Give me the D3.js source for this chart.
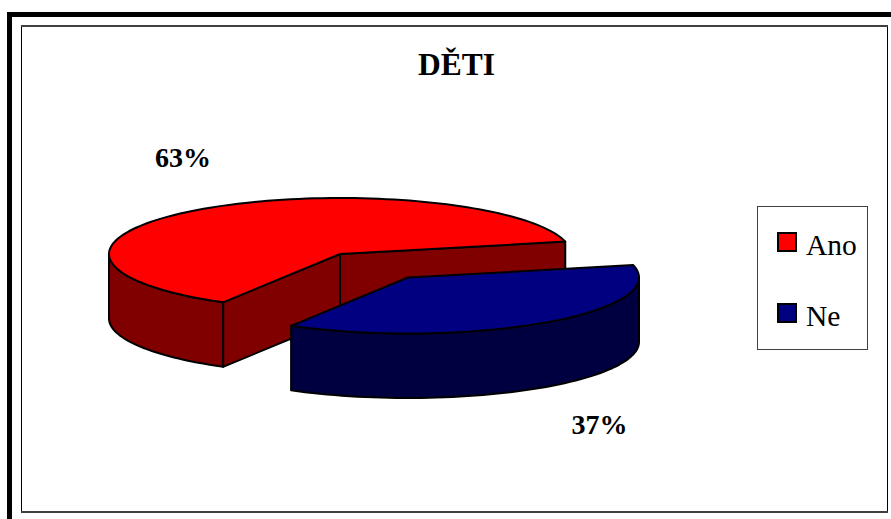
<!DOCTYPE html>
<html><head><meta charset="utf-8">
<script src="https://cdn.jsdelivr.net/npm/d3@7"></script>
<style>html,body{margin:0;padding:0;background:#fff}svg{display:block}text{font-family:"Liberation Serif",serif;fill:#000}</style>
</head><body><script>
const title = "DĚTI";
const categories = ["Ano", "Ne"];
const values = [63, 37];
const labels = ["63%", "37%"];
const topColors = ["#ff0000", "#000080"];
const sideColors = ["#800000", "#000040"];

const W = 891, H = 519;
const svg = d3.select("body").append("svg").attr("width", W).attr("height", H);
const rad = d => d * Math.PI / 180;

// page frame
svg.append("rect").attr("x",7).attr("y",12).attr("width",5).attr("height",H-12).attr("fill","#000");
svg.append("rect").attr("x",7).attr("y",12).attr("width",W-7).attr("height",5).attr("fill","#000");
// chart frame
svg.append("path").attr("d","M21.5,26V512H887.5V26Z").attr("fill","#fff").attr("stroke","#000").attr("stroke-width",1);
svg.append("rect").attr("x",21).attr("y",25).attr("width",867).attr("height",2).attr("fill","#404040");
svg.append("rect").attr("x",21).attr("y",511).attr("width",867).attr("height",2).attr("fill","#404040");

svg.append("text").attr("x",456.5).attr("y",75).attr("text-anchor","middle")
  .attr("font-size",31.5).attr("font-weight","bold").text(title);

// pie projected to an ellipse, with depth
const rx = 231, ry = 56, depth = 64.5;
const cx = 340, cy = 254;
const explode = [[0,0],[68,23.5]];
const pie = d3.pie().sort(null).startAngle(rad(210.4)).endAngle(rad(570.4));
const arcs = pie(values);
const pt = (i, a, dz=0) => [cx + explode[i][0] + rx*Math.sin(a), cy + explode[i][1] - ry*Math.cos(a) + dz];
const centre = (i, dz=0) => [cx + explode[i][0], cy + explode[i][1] + dz];
const line = d3.line();
const sweep = (from, to) => { const n = Math.max(2, Math.ceil(Math.abs(to-from)/rad(2))); return d3.range(n+1).map(k => from + (to-from)*k/n); };
const stroke = s => s.attr("stroke","#000").attr("stroke-width",2).attr("stroke-linejoin","round");

arcs.forEach((d,i) => {
  const g = svg.append("g");
  const s = d.startAngle, e = d.endAngle;
  // inner walls
  [s, e].forEach(a => {
    const p = pt(i,a), q = pt(i,a,depth), c = centre(i), cb = centre(i,depth);
    if (i === 0) g.append("path").attr("d", line([c,p,q,cb])+"Z").attr("fill",sideColors[i]).call(stroke);
  });
  // visible outer rim: the part of the arc on the lower half of the ellipse
  const TAU = 2*Math.PI;
  const k = Math.floor(s/TAU);
  let lo = Math.max(s, rad(90)+k*TAU), hi = Math.min(e, rad(270)+k*TAU);
  if (hi <= lo) { lo = Math.max(s, rad(90)+(k+1)*TAU); hi = Math.min(e, rad(270)+(k+1)*TAU); }
  const sw = sweep(lo, hi);
  const rim = sw.map(a => pt(i,a)).concat(sw.slice().reverse().map(a => pt(i,a,depth)));
  g.append("path").attr("d", line(rim)+"Z").attr("fill",sideColors[i]).call(stroke);
  // top face
  const top = [centre(i)].concat(sweep(s,e).map(a => pt(i,a)));
  g.append("path").attr("d", line(top)+"Z").attr("fill",topColors[i]).call(stroke);
});

// data labels
const labelPos = [[183,167],[599.5,434]];
labels.forEach((t,i) => svg.append("text").attr("x",labelPos[i][0]).attr("y",labelPos[i][1])
  .attr("text-anchor","middle").attr("font-size",28).attr("font-weight","bold").text(t));

// legend
svg.append("rect").attr("x",757.5).attr("y",206.5).attr("width",110).attr("height",143)
  .attr("fill","#fff").attr("stroke","#404040").attr("stroke-width",1);
const legendY = d3.scalePoint().domain(categories).range([242,313]);
categories.forEach((c,i) => {
  const y = legendY(c);
  svg.append("rect").attr("x",778).attr("y",y-9).attr("width",18).attr("height",18)
    .attr("fill",topColors[i]).attr("stroke","#000").attr("stroke-width",2);
  svg.append("text").attr("x",806).attr("y",y+13).attr("font-size",29.5).text(c);
});
</script></body></html>
